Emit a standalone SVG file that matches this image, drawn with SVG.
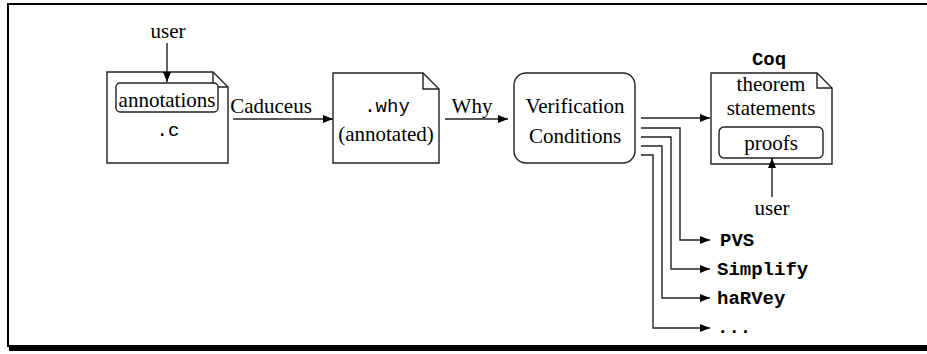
<svg xmlns="http://www.w3.org/2000/svg" width="927" height="354" viewBox="0 0 927 354">
<style>
.s{fill:none;stroke:#222;stroke-width:1.4}
.b{fill:#fff;stroke:#222;stroke-width:1.4}
.t{font-family:"Liberation Serif",serif;font-size:21px;fill:#000;text-anchor:middle}
.m{font-family:"Liberation Mono",monospace;font-size:19px;fill:#000}
.mb{font-family:"Liberation Mono",monospace;font-size:19px;font-weight:bold;fill:#000}
</style>
<defs>
<marker id="ah" viewBox="0 0 10 8" refX="10" refY="4" markerWidth="10" markerHeight="8" markerUnits="userSpaceOnUse" orient="auto">
<path d="M0,0 L10,4 L0,8 z" fill="#000"/>
</marker>
</defs>
<rect width="927" height="354" fill="#fff"/>
<g id="frame">
<path d="M8,347 V4 H927" fill="none" stroke="#000" stroke-width="2"/>
<rect x="9" y="345" width="918" height="6" fill="#000"/>
</g>
<g id="c-file">
<path class="b" d="M107,72 H213 L228,87 V163 H107 Z"/>
<path class="s" d="M213,72 V87 H228"/>
<rect class="b" x="116" y="83" width="102" height="29" rx="4"/>
<text class="t" x="167" y="107">annotations</text>
<text class="m" x="168" y="136" text-anchor="middle">.c</text>
</g>
<g id="why-file">
<path class="b" d="M333,73 H423 L439,89 V163 H333 Z"/>
<path class="s" d="M423,73 V89 H439"/>
<text class="m" x="387" y="112" text-anchor="middle">.why</text>
<text class="t" x="386" y="141">(annotated)</text>
</g>
<g id="vc">
<rect class="b" x="514" y="73" width="121" height="90" rx="12"/>
<text class="t" x="575" y="113">Verification</text>
<text class="t" x="575" y="143">Conditions</text>
</g>
<g id="coq">
<text class="mb" x="769" y="65" text-anchor="middle">Coq</text>
<path class="b" d="M711,73 H817 L832,88 V164 H711 Z"/>
<path class="s" d="M817,73 V88 H832"/>
<text class="t" x="771" y="91">theorem</text>
<text class="t" x="771" y="115">statements</text>
<rect class="b" x="719" y="127" width="104" height="31" rx="5"/>
<text class="t" x="771" y="150">proofs</text>
</g>
<g id="user-top"><text class="t" x="168" y="38">user</text></g>
<g id="user-bottom"><text class="t" x="772" y="215">user</text></g>
<g id="pvs"><text class="mb" x="720" y="246">PVS</text></g>
<g id="simplify"><text class="mb" x="717" y="275">Simplify</text></g>
<g id="harvey"><text class="mb" x="717" y="304">haRVey</text></g>
<g id="more"><text class="mb" x="717" y="333">...</text></g>
<g id="connectors">
<line class="s" x1="167" y1="43" x2="167" y2="82" marker-end="url(#ah)"/>
<line class="s" x1="233" y1="119" x2="333" y2="119" marker-end="url(#ah)"/>
<text class="t" x="271" y="113">Caduceus</text>
<line class="s" x1="445" y1="119" x2="508" y2="119" marker-end="url(#ah)"/>
<text class="t" x="472" y="113">Why</text>
<line class="s" x1="641" y1="118" x2="710" y2="118" marker-end="url(#ah)"/>
<line class="s" x1="772" y1="197" x2="772" y2="158" marker-end="url(#ah)"/>
<path class="s" d="M641,128 H680 V240 H710" marker-end="url(#ah)"/>
<path class="s" d="M641,137 H671 V269 H710" marker-end="url(#ah)"/>
<path class="s" d="M641,146 H662 V298 H710" marker-end="url(#ah)"/>
<path class="s" d="M641,155 H653 V328 H710" marker-end="url(#ah)"/>
</g>
</svg>
